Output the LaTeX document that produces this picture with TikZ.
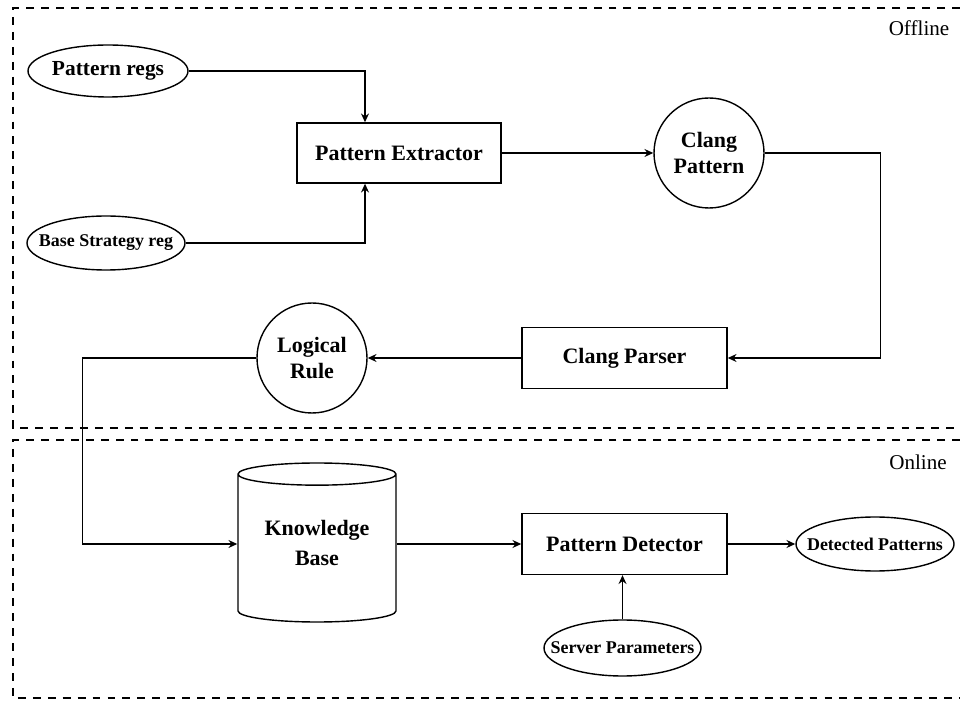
\documentclass[tikz,border=0pt]{standalone}
\usepackage{fontspec}
\setmainfont{Liberation Serif}
\usepackage{tikz}
\usetikzlibrary{
  shapes.geometric,
  arrows.meta,
  positioning,
  calc
}
\tikzset{
  block/.style={
    rectangle, draw, minimum width=4.1cm, minimum height=1.22cm,
    font=\fontsize{12.5}{15}\selectfont\bfseries, text centered, line width=0.8pt
  },
  inputs/.style={
    ellipse, draw, minimum width=3.16cm, minimum height=1.08cm,
    inner xsep=-0.9cm, inner ysep=0pt,
    font=\fontsize{10.2}{12}\selectfont\bfseries, line width=0.8pt
  },
  bubble/.style={
    circle, draw, minimum size=2.2cm, inner sep=0pt, align=center,
    font=\fontsize{12.5}{15}\selectfont\bfseries, line width=0.8pt
  },
  store/.style={
    cylinder, draw, shape border rotate=90, aspect=0.19,
    minimum width=3.16cm, minimum height=3.18cm, align=center,
    font=\fontsize{12.5}{17}\selectfont\bfseries, line width=0.8pt
  },
  arrow/.style={-{Stealth[length=5pt, width=4.5pt]}, line width=0.8pt},
  zone/.style={dash pattern=on 4.5pt off 4pt, line width=0.6pt},
  zonelabel/.style={font=\fontsize{12}{14}\selectfont},
}

\begin{document}
\begin{tikzpicture}
\useasboundingbox (0,0) rectangle (19.2,14);

% Zones
\draw[zone] (19.2,13.84) -| (0.26,5.44) -- (19.2,5.44);
\draw[zone] (19.2,5.2) -| (0.26,0.04) -- (19.2,0.04);
\node[zonelabel] (offline) at (18.38,13.44) {Offline};
\node[zonelabel] (online) at (18.36,4.76) {Online};

% Offline part
\node[inputs, minimum width=3.2cm, minimum height=1.04cm, font=\fontsize{12.2}{14}\selectfont\bfseries] (patregs) at (2.16,12.58) {Pattern regs};
\node[inputs] (basereg) at (2.12,9.14) {Base Strategy reg};
\node[block, minimum width=4.08cm, minimum height=1.2cm] (extractor) at (7.98,10.94) {Pattern Extractor};
\node[bubble] (clangpat) at (14.18,10.94) {Clang\\Pattern};
\node[block] (parser) at (12.49,6.84) {Clang Parser};
\node[bubble] (logical) at (6.24,6.84) {Logical\\Rule};

% Online part
\node[store, anchor=shape center] (kb) at (6.34,3.15) {Knowledge\\Base\rule[-0.32cm]{0pt}{0pt}};
\node[block] (detector) at (12.49,3.12) {Pattern Detector};
\node[inputs] (detected) at (17.5,3.12) {Detected Patterns};
\node[inputs, minimum width=3.14cm, minimum height=1.12cm] (server) at (12.45,1.04) {Server Parameters};

% Connectors
\draw[arrow] (patregs.east) -| ([xshift=-0.68cm]extractor.north);
\draw[arrow] (basereg.east) -| ([xshift=-0.68cm]extractor.south);
\draw[arrow] (extractor.east) -- (clangpat.west);
\draw[arrow] (clangpat.east) -- ++(2.32,0) |- (parser.east);
\draw[arrow] (parser.west) -- (logical.east);
\draw[arrow] (logical.west) -- ++(-3.48,0) |- (kb.west |- detector.west);
\draw[arrow] (kb.east |- detector.west) -- (detector.west);
\draw[arrow] (detector.east) -- (detected.west);
\draw[arrow] (server.north) -- (server.north |- detector.south);

\end{tikzpicture}
\end{document}
